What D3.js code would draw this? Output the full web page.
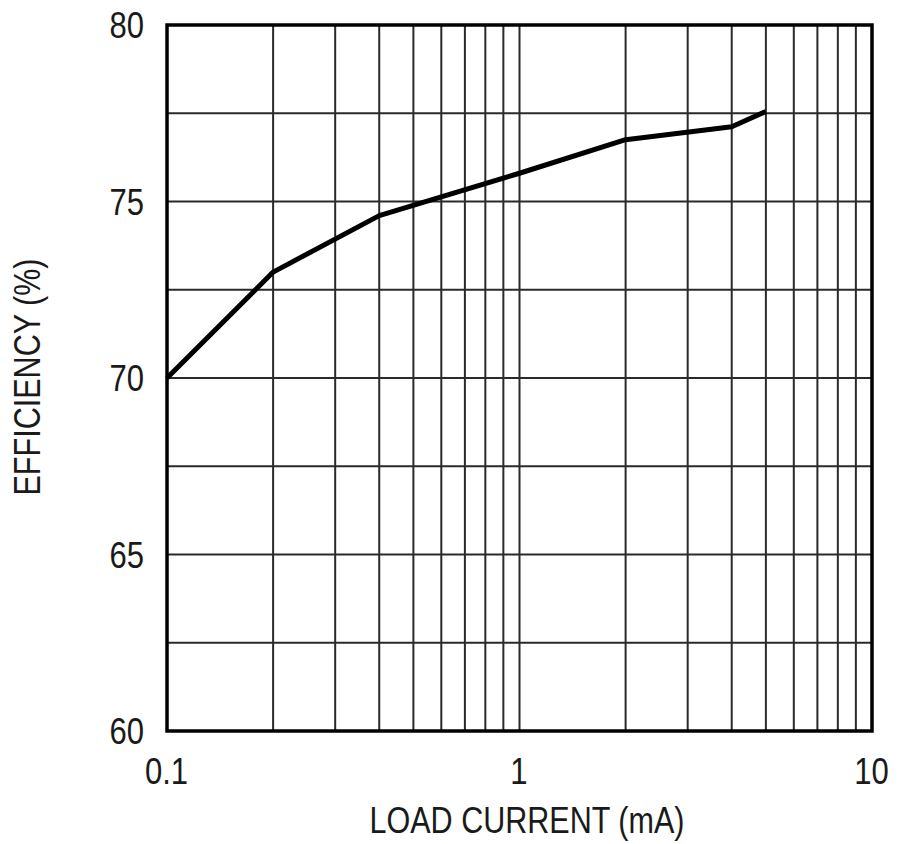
<!DOCTYPE html>
<html><head><meta charset="utf-8">
<script src="https://cdn.jsdelivr.net/npm/d3@7"></script>
<style>
body{margin:0;background:#fff;}
text{font-family:"Liberation Sans","Arial",sans-serif;fill:#1a1a1a;}
</style></head>
<body>
<svg id="chart" width="900" height="844"></svg>
<script>
const currentMA = [0.1, 0.2, 0.4, 1, 2, 4, 5];
const efficiency = [70.0, 73.0, 74.6, 75.8, 76.75, 77.12, 77.55];
const xTickLabels = ["0.1", "1", "10"];
const yTickValues = [60, 65, 70, 75, 80];
const yGridValues = [60, 62.5, 65, 67.5, 70, 72.5, 75, 77.5, 80];
const xTitle = "LOAD CURRENT (mA)";
const yTitle = "EFFICIENCY (%)";

const svg = d3.select("#chart");
const L = 167, R = 872, T = 25, B = 731;
const SX = 0.84;
const x = d3.scaleLog().domain([0.1, 10]).range([L, R]);
const y = d3.scaleLinear().domain([60, 80]).range([B, T]);

const xGrid = [];
for (let d = 0.1; d < 10; d *= 10) for (let k = 1; k <= 9; k++) xGrid.push(+(d * k).toPrecision(3));
xGrid.push(10);

const g = svg.append("g");
g.selectAll(".vg").data(xGrid).join("line")
  .attr("x1", d => x(d)).attr("x2", d => x(d)).attr("y1", T).attr("y2", B)
  .attr("stroke", "#2a2a2a").attr("stroke-width", 2);
g.selectAll(".hg").data(yGridValues).join("line")
  .attr("x1", L).attr("x2", R).attr("y1", d => y(d)).attr("y2", d => y(d))
  .attr("stroke", "#2a2a2a").attr("stroke-width", 2);

g.append("rect").attr("x", L).attr("y", T).attr("width", R - L).attr("height", B - T)
  .attr("fill", "none").attr("stroke", "#000").attr("stroke-width", 3.5);

const pts = currentMA.map((c, i) => [c, efficiency[i]]);
g.append("path").datum(pts)
  .attr("d", d3.line().x(d => x(d[0])).y(d => y(d[1])))
  .attr("fill", "none").attr("stroke", "#000").attr("stroke-width", 5)
  .attr("stroke-linejoin", "round").attr("stroke-linecap", "butt");

const xAxis = d3.axisBottom(x).tickValues(xTickLabels.map(Number)).tickFormat((d, i) => xTickLabels[i]).tickSize(0).tickPadding(27);
const xa = svg.append("g").attr("transform", `translate(-1,${B})`).call(xAxis);
xa.select(".domain").remove();
xa.selectAll("text").attr("font-size", 37).attr("font-family", null).attr("fill", "#1a1a1a")
  .attr("transform", `scale(${SX},1)`);

const yAxis = d3.axisLeft(y).tickValues(yTickValues).tickFormat(d3.format("d")).tickSize(0);
const ya = svg.append("g").attr("transform", `translate(${L},0)`).call(yAxis);
ya.select(".domain").remove();
ya.selectAll("text").attr("font-size", 37).attr("font-family", null).attr("dy", "0.35em").attr("fill", "#1a1a1a")
  .attr("x", -23 / SX).attr("transform", `scale(${SX},1)`);

svg.append("text").attr("x", 527).attr("y", 833)
  .attr("text-anchor", "middle").attr("font-size", 37)
  .attr("textLength", 315).attr("lengthAdjust", "spacingAndGlyphs").text(xTitle);
svg.append("text").attr("transform", `translate(40,${377}) rotate(-90)`)
  .attr("text-anchor", "middle").attr("font-size", 37)
  .attr("textLength", 237).attr("lengthAdjust", "spacingAndGlyphs").text(yTitle);
</script>
</body></html>
